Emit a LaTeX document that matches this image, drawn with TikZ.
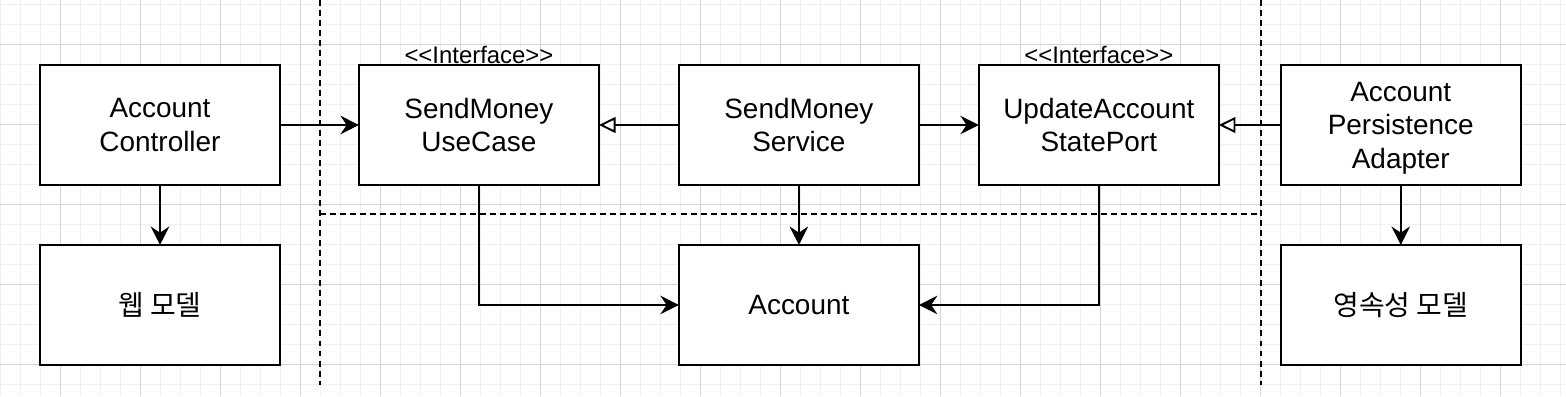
\documentclass[tikz,border=0pt]{standalone}
\usepackage{fontspec}
\setmainfont{Liberation Sans}
\newfontfamily\krfont{Noto Sans CJK KR}
\usetikzlibrary{arrows.meta, positioning}

\begin{document}
\begin{tikzpicture}[
  x=0.02cm, y=-0.02cm,
  node distance=1.2cm and 1.6cm,
  box/.style={rectangle, draw=black, line width=1.1pt, fill=white, outer sep=0pt,
              minimum width=4.8cm, minimum height=2.4cm, align=center,
              font=\fontsize{15.9}{19}\selectfont},
  iface/.style={inner sep=0pt, font=\fontsize{13.6}{16}\selectfont},
  arr/.style={-{Stealth[length=10.5pt, width=10.5pt, inset=3.5pt]}, line width=1.1pt},
  real/.style={-{Triangle[open, length=9.5pt, width=9pt, fill=white]}, line width=1.1pt},
  layer/.style={dashed, dash pattern=on 3.4pt off 2.3pt, line width=1.1pt}
]
  \useasboundingbox (0,0) rectangle (1566,396);
  % grid
  \foreach \x in {0,20,...,1560} \draw[black!6, line width=0.5pt] (\x,0) -- (\x,396);
  \foreach \y in {4,24,...,384} \draw[black!6, line width=0.5pt] (0,\y) -- (1566,\y);
  \foreach \x in {60,140,...,1540} \draw[black!17, line width=0.5pt] (\x,0) -- (\x,396);
  \foreach \y in {44,124,...,364} \draw[black!17, line width=0.5pt] (0,\y) -- (1566,\y);

  % layer borders
  \draw[layer] (320,0) -- (320,385);
  \draw[layer] (1261,0) -- (1261,385);
  \draw[layer] (320,214) -- (1261,214);

  \node[box] (ctrl) at (160,125) {Account\\Controller};
  \node[box, right=1.58cm of ctrl] (uc)   {SendMoney\\UseCase};
  \node[box, right=of uc]          (svc)  {SendMoney\\Service};
  \node[box, right=1.2cm of svc]   (port) {UpdateAccount\\StatePort};
  \node[box, right=1.24cm of port] (adp)
    {\raisebox{-1.8pt}[\height][\depth]{\begin{tabular}{@{}c@{}}Account\\Persistence\\Adapter\end{tabular}}};
  \node[box, below=of ctrl] (web) {\krfont 웹 모델};
  \node[box, below=of svc]  (acc) {Account};
  \node[box, below=of adp]  (pm)  {\krfont 영속성 모델};

  \node[iface, above=0.5pt of uc]   (ucif)   {<\kern0pt<Interface>\kern0pt>};
  \node[iface, above=0.5pt of port] (portif) {<\kern0pt<Interface>\kern0pt>};

  \draw[arr]  (ctrl) -- (uc);
  \draw[real] (svc) -- (uc);
  \draw[arr]  (svc) -- (port);
  \draw[real] (adp) -- (port);
  \draw[arr]  (svc) -- (acc);
  \draw[arr]  (uc.south) |- (acc);
  \draw[arr]  (port.south) |- (acc);
  \draw[arr]  (ctrl) -- (web);
  \draw[arr]  (adp) -- (pm);
\end{tikzpicture}
\end{document}
